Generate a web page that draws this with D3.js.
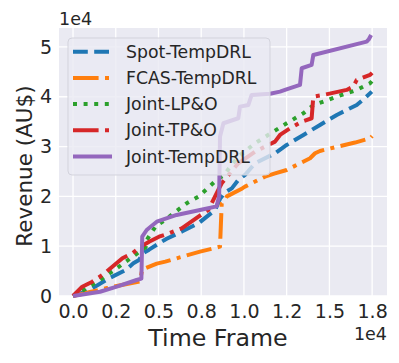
<!DOCTYPE html>
<html>
<head>
<meta charset="utf-8">
<script src="https://cdn.jsdelivr.net/npm/d3@7"></script>
<style>
  body { margin: 0; background: #fff; }
  text { font-family: "DejaVu Sans", sans-serif; fill: #262626; }
</style>
</head>
<body>
<svg id="chart" width="399" height="363"></svg>
<script>
// data (x in time frames, y in AU$)
var spotTempDRL = [[0,0],[600,700],[1130,1540],[2110,3550],[3080,5220],[3530,6560],[3860,7230],[4110,8600],[4450,9300],[5030,10580],[5480,11500],[6400,13000],[7340,14590],[8310,17270],[8600,19500],[8900,20800],[9290,21600],[9670,23290],[10060,24300],[10650,26640],[11820,28650],[12500,30320],[13480,32330],[14450,34340],[15430,36350],[16600,38350],[17100,39800],[17480,41020]];
var fcasTempDRL = [[0,0],[1000,800],[2000,1600],[3000,2300],[3900,2900],[4050,5300],[4900,6500],[5400,6900],[6400,7900],[7430,8900],[8600,9900],[8700,18600],[8900,19300],[9000,20000],[9900,21600],[10060,21950],[11230,23960],[11820,24600],[12500,25300],[13280,26640],[13870,27650],[14160,28650],[14450,29120],[15500,30000],[16500,30800],[17380,31660],[17500,32100]];
var jointLPO = [[0,0],[800,1600],[1720,3550],[2690,5880],[3760,8570],[4250,9800],[4310,11240],[4840,14000],[5380,15260],[6650,18610],[7340,19940],[8400,23290],[8800,24200],[9670,27970],[10650,30660],[11820,33200],[12500,34670],[13480,36690],[14060,38300],[14650,39020],[15430,40020],[16600,41370],[17380,42700],[17500,43200]];
var jointTPO = [[0,0],[540,1870],[1130,2870],[1720,4220],[2300,5880],[2890,7570],[3470,8570],[3960,9900],[4450,10900],[5030,11900],[5620,12590],[6360,13590],[7340,15930],[7920,17270],[8500,21290],[8700,22630],[9670,26640],[10650,28980],[11820,30990],[12110,32330],[12700,33670],[13380,35000],[13960,35680],[14060,40020],[14650,40360],[16010,41370],[16400,42040],[16600,43370],[17380,44380],[17500,44800]];
var jointTempDRL = [[0,0],[1580,860],[2560,1870],[3720,3210],[4000,3500],[4050,11900],[4310,13250],[4900,14920],[6060,16270],[7430,17270],[8400,18000],[8550,20000],[8600,32000],[8800,34680],[9670,35680],[9770,38010],[10260,38350],[10450,40360],[11530,40600],[12110,41030],[12400,41370],[13280,42370],[13380,45720],[13960,46390],[14060,48390],[17180,51070],[17300,51500],[17440,52400]];

var seriesNames = ["Spot-TempDRL", "FCAS-TempDRL", "Joint-LP&O", "Joint-TP&O", "Joint-TempDRL"];
var seriesData = [spotTempDRL, fcasTempDRL, jointLPO, jointTPO, jointTempDRL];

var xTicks = [0, 2500, 5000, 7500, 10000, 12500, 15000, 17500];
var xTickLabels = ["0.0", "0.2", "0.5", "0.8", "1.0", "1.2", "1.5", "1.8"];
var yTicks = [0, 10000, 20000, 30000, 40000, 50000];
var yTickLabels = ["0", "1", "2", "3", "4", "5"];

var colors = ["#1f77b4", "#ff7f0e", "#2ca02c", "#d62728", "#9467bd"];
var lw = 4;
var dashes = [[3.7*lw, 1.6*lw], [6.4*lw, 1.6*lw, 1*lw, 1.6*lw], [1*lw, 1.65*lw], [6.4*lw, 1.6*lw, 1*lw, 1.6*lw], null];

var svg = d3.select("#chart");
var pLeft = 59, pRight = 387, pTop = 28, pBottom = 296;

var x = d3.scaleLinear().domain([-820, 18370]).range([pLeft, pRight]);
var y = d3.scaleLinear().domain([0, 53800]).range([pBottom, pTop]);

svg.append("rect")
    .attr("x", pLeft).attr("y", pTop)
    .attr("width", pRight - pLeft).attr("height", pBottom - pTop)
    .attr("fill", "#eaeaf2");

// grid
svg.append("g").selectAll("line").data(xTicks).enter().append("line")
    .attr("x1", d => x(d)).attr("x2", d => x(d))
    .attr("y1", pTop).attr("y2", pBottom)
    .attr("stroke", "#fff").attr("stroke-width", 1.3);
svg.append("g").selectAll("line").data(yTicks).enter().append("line")
    .attr("x1", pLeft).attr("x2", pRight)
    .attr("y1", d => y(d)).attr("y2", d => y(d))
    .attr("stroke", "#fff").attr("stroke-width", 1.3);

// axes
var xAxis = svg.append("g")
    .attr("transform", "translate(0," + pBottom + ")")
    .call(d3.axisBottom(x).tickValues(xTicks)
        .tickFormat((d, i) => xTickLabels[i]).tickSize(0).tickPadding(9));
var yAxis = svg.append("g")
    .attr("transform", "translate(" + pLeft + ",0)")
    .call(d3.axisLeft(y).tickValues(yTicks)
        .tickFormat((d, i) => yTickLabels[i]).tickSize(0).tickPadding(7));
[xAxis, yAxis].forEach(function (g) {
    g.select(".domain").remove();
    g.selectAll("text").attr("font-size", 19).attr("font-family", "DejaVu Sans").attr("fill", "#262626");
});

// lines
var line = d3.line().x(d => x(d[0])).y(d => y(d[1]));
seriesData.forEach(function (data, i) {
    svg.append("path")
        .datum(data)
        .attr("d", line)
        .attr("fill", "none")
        .attr("stroke", colors[i])
        .attr("stroke-width", lw)
        .attr("stroke-linejoin", "round")
        .attr("stroke-dasharray", dashes[i] ? dashes[i].join(",") : null);
});

// labels
svg.append("text")
    .attr("x", (pLeft + pRight) / 2 - 5).attr("y", 346)
    .attr("text-anchor", "middle").attr("font-size", 23.7)
    .text("Time Frame");
svg.append("text")
    .attr("transform", "translate(32,166) rotate(-90)")
    .attr("text-anchor", "middle").attr("font-size", 21.5)
    .text("Revenue (AU$)");
svg.append("text")
    .attr("x", pLeft).attr("y", 25).attr("font-size", 17.5)
    .text("1e4");
svg.append("text")
    .attr("x", pRight).attr("y", 340).attr("text-anchor", "end").attr("font-size", 17.5)
    .text("1e4");

// legend
var legend = svg.append("g");
legend.append("rect")
    .attr("x", 68).attr("y", 38).attr("width", 202).attr("height", 137)
    .attr("rx", 4)
    .attr("fill", "#eaeaf2").attr("fill-opacity", 0.8)
    .attr("stroke", "#d3d3dc").attr("stroke-width", 1);
seriesNames.forEach(function (name, i) {
    var cy = 51.7 + i * 26.2;
    legend.append("line")
        .attr("x1", 73).attr("x2", 112)
        .attr("y1", cy).attr("y2", cy)
        .attr("stroke", colors[i]).attr("stroke-width", lw)
        .attr("stroke-dasharray", dashes[i] ? dashes[i].join(",") : null);
    legend.append("text")
        .attr("x", 126).attr("y", cy).attr("dy", "0.35em")
        .attr("font-size", 17.3)
        .text(name);
});
</script>
</body>
</html>
